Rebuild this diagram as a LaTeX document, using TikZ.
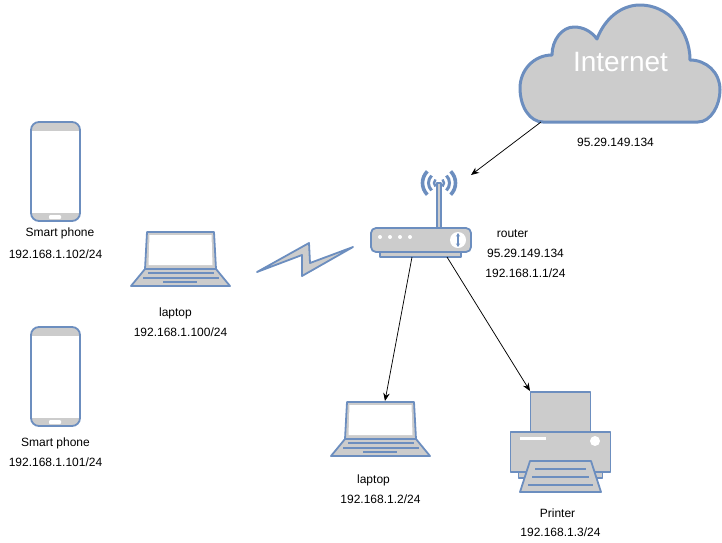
\documentclass[tikz,border=0pt]{standalone}
\usepackage{fontspec}
\setmainfont{Liberation Sans}
\usetikzlibrary{arrows.meta}
\definecolor{iconblue}{HTML}{6C8EBF}
\definecolor{icongray}{HTML}{CCCCCC}
\tikzset{
  icon/.style={draw=iconblue, fill=icongray, line width=1.8pt, line join=round},
  iconline/.style={draw=iconblue, line width=1.5pt},
  label/.style={font=\fontsize{12}{14}\selectfont, inner sep=0pt},
  link/.style={black, line width=0.75pt, -{Stealth[length=8pt,width=6.5pt]}}
}
\begin{document}
\begin{tikzpicture}[x=1pt, y=-1pt]
   \useasboundingbox (0,0) rectangle (722,542);

   % Cloud
   \draw[icon, line width=3pt] (543,122) -- (698,122)
      .. controls (711,122) and (720,105) .. (720,90)
      .. controls (720,72) and (706,60) .. (690,60)
      .. controls (690,30) and (668,5) .. (640,5)
      .. controls (620,5) and (604,20) .. (597,39)
      .. controls (591,31) and (583,27) .. (574,27)
      .. controls (562,27) and (552,40) .. (552,55)
      .. controls (534,55) and (520,70) .. (520,88)
      .. controls (520,107) and (530,122) .. (543,122) -- cycle;
   \node[label, white, font=\fontsize{28}{32}\selectfont] (internet) at (620.5,62) {Internet};
   \coordinate (cloudout) at (541,122);

   % Smart phones
   \foreach \dy in {0,205} {
      \begin{scope}[yshift=-\dy pt]
         \begin{scope}
            \clip[rounded corners=8pt] (31,122) rectangle (80,221);
            \fill[white] (31,122) rectangle (80,221);
            \fill[icongray] (31,122) rectangle (80,130.5);
            \fill[icongray] (31,213) rectangle (80,221);
            \fill[white, rounded corners=1pt] (49,215) rectangle (61,219);
         \end{scope}
         \draw[iconblue, line width=1.8pt, rounded corners=8pt] (31,122) rectangle (80,221);
      \end{scope}
   }

   % Laptops
   \foreach \dx/\dy in {0/0,200/170} {
      \begin{scope}[xshift=\dx pt, yshift=-\dy pt]
         \draw[icon] (147,232) -- (214,232) -- (216,269) -- (145,269) -- cycle;
         \fill[white] (149.5,235) -- (211.5,235) -- (212.5,265) -- (148.5,265) -- cycle;
         \draw[icon] (145,269) -- (216,269) -- (230,286) -- (131,286) -- cycle;
         \draw[iconline] (148,273) -- (214,273);
         \draw[iconline] (143,278) -- (219,278);
         \draw[iconline] (163,282) -- (197,282);
      \end{scope}
   }

   % Wireless link
   \draw[icon] (257,272) -- (309,243) -- (310,263) -- (353,247) -- (302,276) -- (302,255) -- cycle;

   % Router
   \draw[icon] (380,250) rectangle (461,257);
   \draw[icon] (437,228) rectangle (441,183);
   \draw[icon, rounded corners=5pt] (371,228) rectangle (471,252);
   \foreach \x in {380,390,400,410}
      \fill[white] (\x,237) circle[radius=2pt];
   \fill[white] (458,240) circle[radius=8pt];
   \draw[draw=iconblue, line width=1.2pt, {Stealth[length=3.5pt,width=4pt]}-{Stealth[length=3.5pt,width=4pt]}] (458,233) -- (458,247);
   \foreach \r/\w in {5/2.4pt,10.5/3pt,16.5/3.6pt} {
      \draw[iconblue, line width=\w] (439,183) ++(135:\r pt) arc[start angle=135, end angle=225, radius=\r pt];
      \draw[iconblue, line width=\w] (439,183) ++(-45:\r pt) arc[start angle=-45, end angle=45, radius=\r pt];
   }
   \coordinate (routerin) at (471,175);
   \coordinate (routerleft) at (412,257);
   \coordinate (routerright) at (447,257);

   % Printer
   \draw[icon] (530.5,392) rectangle (590.5,432);
   \draw[icon] (518.5,468) rectangle (602.5,478);
   \draw[icon] (510.5,432) rectangle (610.5,472);
   \draw[white, line width=3pt] (520,438) -- (546,438);
   \fill[white] (595,441) circle[radius=5pt];
   \draw[icon] (530,461) -- (591,461) -- (601,492) -- (520,492) -- cycle;
   \draw[iconline] (535,469) -- (586,469);
   \draw[iconline] (532,477) -- (589,477);
   \draw[iconline] (528,485) -- (593,485);

   % Ends of the arrows
   \coordinate (laptopin) at (385,401);
   \coordinate (printerin) at (530,391);

   % Arrows
   \draw[link] (cloudout) -- (routerin);
   \draw[link] (routerleft) -- (laptopin);
   \draw[link] (routerright) -- (printerin);

   % Labels
   \node[label] (phoneone) at (60,233) {Smart phone};
   \node[label] (phoneoneip) at (55.5,254) {192.168.1.102/24};
   \node[label] (phonetwo) at (55.5,443) {Smart phone};
   \node[label] (phonetwoip) at (55.5,462) {192.168.1.101/24};
   \node[label] (laptopone) at (175.5,313) {laptop};
   \node[label] (laptoponeip) at (180.5,332) {192.168.1.100/24};
   \node[label] (laptoptwo) at (373.5,480) {laptop};
   \node[label] (laptoptwoip) at (380.5,499) {192.168.1.2/24};
   \node[label] (router) at (512.5,234) {router};
   \node[label] (routerwan) at (525.5,253) {95.29.149.134};
   \node[label] (routerlan) at (525.5,273) {192.168.1.1/24};
   \node[label] (cloudip) at (615.5,142) {95.29.149.134};
   \node[label] (printer) at (557.5,513.5) {Printer};
   \node[label] (printerip) at (560.5,532) {192.168.1.3/24};
\end{tikzpicture}
\end{document}
